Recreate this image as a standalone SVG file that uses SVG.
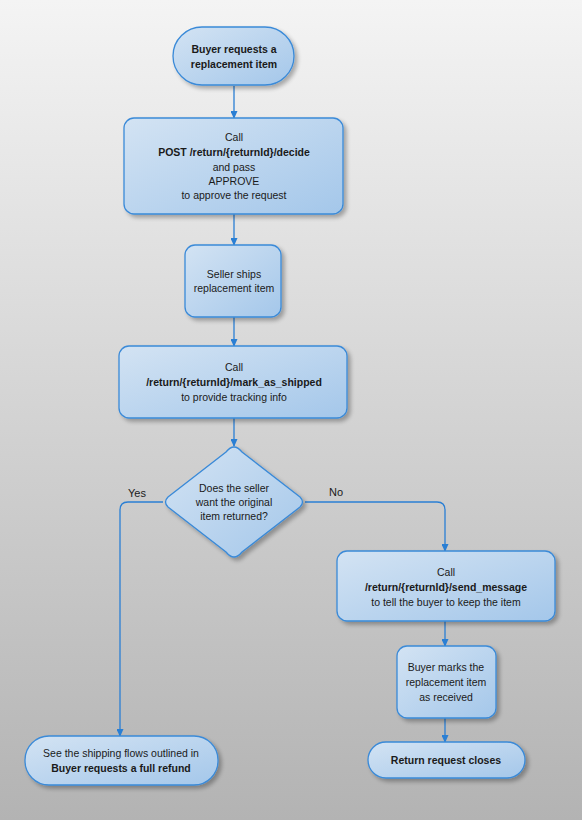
<svg xmlns="http://www.w3.org/2000/svg" width="582" height="820" viewBox="0 0 582 820">
<defs>
<linearGradient id="bg" x1="0" y1="0" x2="0" y2="1">
<stop offset="0" stop-color="#f4f4f4"/>
<stop offset="1" stop-color="#b3b3b3"/>
</linearGradient>
<linearGradient id="nf" x1="0" y1="0" x2="1" y2="1">
<stop offset="0" stop-color="#d3e3f3"/>
<stop offset="1" stop-color="#a4c7ea"/>
</linearGradient>
<filter id="sh" x="-10%" y="-10%" width="130%" height="140%">
<feGaussianBlur in="SourceAlpha" stdDeviation="2"/>
<feOffset dx="3" dy="3" result="b"/>
<feComponentTransfer><feFuncA type="linear" slope="0.3"/></feComponentTransfer>
<feMerge><feMergeNode/><feMergeNode in="SourceGraphic"/></feMerge>
</filter>
<marker id="ah" markerWidth="8" markerHeight="7" refX="7" refY="3.5" orient="auto" markerUnits="userSpaceOnUse">
<path d="M0,0 L8,3.5 L0,7 Z" fill="#2a7fd4"/>
</marker>
</defs>
<style>
.n{fill:url(#nf);stroke:#3a8ad8;stroke-width:1.3;filter:url(#sh)}
.t{font-family:"Liberation Sans",Arial,sans-serif;font-size:10.5px;fill:#1a1a1a;text-anchor:middle}
.b{font-weight:bold}
.c{fill:none;stroke:#2a7fd4;stroke-width:1.3;marker-end:url(#ah)}
.l{font-family:"Liberation Sans",Arial,sans-serif;font-size:11px;fill:#1a1a1a}
</style>
<rect x="0" y="0" width="582" height="820" fill="url(#bg)"/>
<g id="connectors">
<path class="c" d="M234,86 V118"/>
<path class="c" d="M234,214 V245"/>
<path class="c" d="M234,317 V346"/>
<path class="c" d="M234,418 V446"/>
<path class="c" d="M163,502 H128 Q120,502 120,510 V736"/>
<path class="c" d="M305,502 H437 Q445,502 445,510 V551"/>
<path class="c" d="M445,621 V646"/>
<path class="c" d="M445,718 V742"/>
<text class="l" x="128" y="497">Yes</text>
<text class="l" x="329" y="496">No</text>
</g>
<g id="start">
<rect class="n" x="173" y="27" width="121" height="58" rx="29"/>
<text class="t b" x="234" y="53">Buyer requests a</text>
<text class="t b" x="234" y="68">replacement item</text>
</g>
<g id="decide">
<rect class="n" x="124" y="118" width="219" height="96" rx="10"/>
<text class="t" x="234" y="141">Call</text>
<text class="t b" x="234" y="156">POST /return/{returnId}/decide</text>
<text class="t" x="234" y="171">and pass</text>
<text class="t" x="234" y="185">APPROVE</text>
<text class="t" x="234" y="199">to approve the request</text>
</g>
<g id="ships">
<rect class="n" x="185" y="245" width="96" height="72" rx="10"/>
<text class="t" x="234" y="278">Seller ships</text>
<text class="t" x="234" y="292">replacement item</text>
</g>
<g id="shipped">
<rect class="n" x="119" y="346" width="228" height="72" rx="10"/>
<text class="t" x="234" y="371">Call</text>
<text class="t b" x="234" y="386">/return/{returnId}/mark_as_shipped</text>
<text class="t" x="234" y="401">to provide tracking info</text>
</g>
<g id="question">
<path class="n" d="M234,447 Q238,447 242,452 L300,497 Q305,502 300,507 L242,552 Q238,557 234,557 Q230,557 226,552 L168,507 Q163,502 168,497 L226,452 Q230,447 234,447 Z"/>
<text class="t" x="234" y="492">Does the seller</text>
<text class="t" x="234" y="506">want the original</text>
<text class="t" x="234" y="520">item returned?</text>
</g>
<g id="message">
<rect class="n" x="337" y="551" width="218" height="70" rx="10"/>
<text class="t" x="446" y="576">Call</text>
<text class="t b" x="446" y="591">/return/{returnId}/send_message</text>
<text class="t" x="446" y="606">to tell the buyer to keep the item</text>
</g>
<g id="received">
<rect class="n" x="397" y="646" width="99" height="72" rx="10"/>
<text class="t" x="446" y="671">Buyer marks the</text>
<text class="t" x="446" y="686">replacement item</text>
<text class="t" x="446" y="701">as received</text>
</g>
<g id="closes">
<rect class="n" x="368" y="742" width="157" height="36" rx="18"/>
<text class="t b" x="446" y="764">Return request closes</text>
</g>
<g id="refund">
<rect class="n" x="25" y="736" width="193" height="49" rx="24"/>
<text class="t" x="121" y="757">See the shipping flows outlined in</text>
<text class="t b" x="121" y="772">Buyer requests a full refund</text>
</g>
</svg>
